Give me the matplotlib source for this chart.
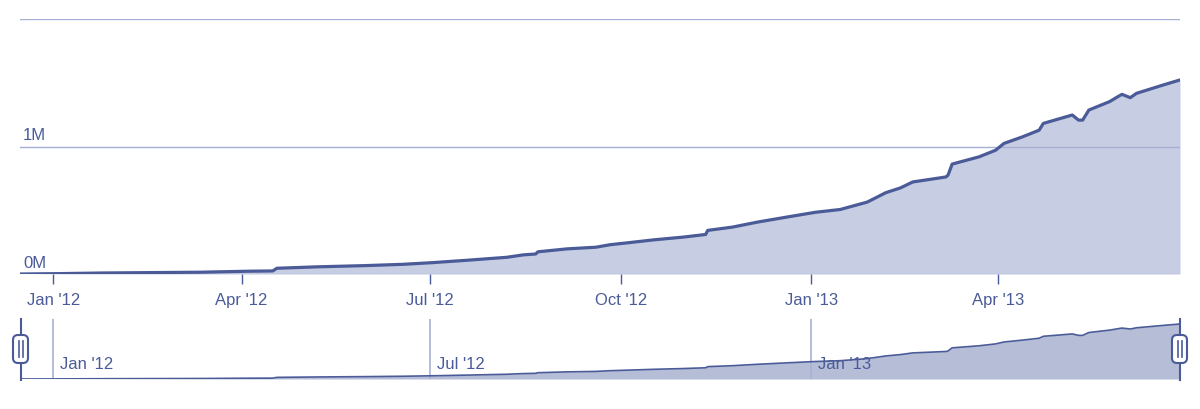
import numpy as np
import pandas as pd
import matplotlib
matplotlib.use("Agg")
import matplotlib.pyplot as plt
import matplotlib.dates as mdates
from matplotlib.patches import FancyBboxPatch

# cumulative total (millions)
dates = [
    "2011-12-16", "2012-01-04", "2012-01-25", "2012-03-12", "2012-04-05",
    "2012-04-16", "2012-04-18", "2012-05-07", "2012-05-31", "2012-06-18",
    "2012-07-02", "2012-07-19", "2012-08-07", "2012-08-15", "2012-08-21",
    "2012-08-22", "2012-09-05", "2012-09-19", "2012-09-26", "2012-10-04",
    "2012-10-17", "2012-10-31", "2012-11-11", "2012-11-12", "2012-11-24",
    "2012-12-06", "2012-12-20", "2013-01-03", "2013-01-15", "2013-01-28",
    "2013-02-06", "2013-02-13", "2013-02-19", "2013-03-07", "2013-03-08",
    "2013-03-10", "2013-03-23", "2013-03-31", "2013-04-04", "2013-04-13",
    "2013-04-21", "2013-04-23", "2013-05-07", "2013-05-10", "2013-05-12",
    "2013-05-15", "2013-05-25", "2013-05-29", "2013-05-31", "2013-06-04",
    "2013-06-07", "2013-06-20", "2013-06-28",
]
values = [
    0.000, 0.003, 0.008, 0.014, 0.022,
    0.024, 0.045, 0.056, 0.066, 0.076,
    0.089, 0.108, 0.131, 0.150, 0.157,
    0.174, 0.197, 0.210, 0.230, 0.244,
    0.268, 0.289, 0.310, 0.342, 0.368,
    0.407, 0.446, 0.484, 0.506, 0.564,
    0.638, 0.675, 0.722, 0.761, 0.775,
    0.862, 0.919, 0.971, 1.024, 1.076,
    1.128, 1.181, 1.247, 1.207, 1.207,
    1.286, 1.352, 1.391, 1.409, 1.383,
    1.417, 1.483, 1.522,
]
y_ticks = [0, 1, 2]
y_labels = ["0M", "1M", ""]
x_ticks = ["2012-01-01", "2012-04-01", "2012-07-01", "2012-10-01", "2013-01-01", "2013-04-01"]
nav_ticks = ["2012-01-01", "2012-07-01", "2013-01-01"]
x_start, x_end = "2011-12-16", "2013-06-28"

x = pd.to_datetime(dates)
x0, x1 = pd.Timestamp(x_start), pd.Timestamp(x_end)

LINE = "#4a5b98"
FILL = "#c7cde2"
NAV_FILL = "#b5bdd7"
GRID = "#a6b0d6"
TEXT = "#4a5b98"

plt.rcParams["font.family"] = ["Liberation Sans", "DejaVu Sans"]

W, H = 1200, 410
fig = plt.figure(figsize=(W / 100, H / 100), dpi=100)

# main chart
ax = fig.add_axes([20 / W, 1 - 275 / H, 1160 / W, 255 / H])
ax.fill_between(x, values, 0, color=FILL, lw=0, zorder=1)
for t in y_ticks:
    ax.axhline(t, color=GRID, lw=1, zorder=1.5)
ax.plot(x, values, color=LINE, lw=2.3, zorder=3, solid_joinstyle="round")
ax.set_xlim(x0, x1)
ax.set_ylim(0, 2)
ax.set_yticks([])
for t, lab in zip(y_ticks, y_labels):
    if lab:
        ax.annotate(lab, xy=(0, t), xycoords=("axes fraction", "data"),
                    xytext=(3, 4), textcoords="offset pixels",
                    ha="left", va="bottom", fontsize=12, color=TEXT)
ax.set_xticks(pd.to_datetime(x_ticks))
ax.xaxis.set_major_formatter(mdates.DateFormatter("%b '%y"))
ax.tick_params(axis="x", direction="out", length=7, width=1, color=LINE,
               labelcolor=TEXT, labelsize=12, pad=6)
for s in ax.spines.values():
    s.set_visible(False)

# navigator
nav = fig.add_axes([20 / W, 1 - 380 / H, 1160 / W, 60 / H])
nav.fill_between(x, values, 0, color=NAV_FILL, lw=0, zorder=1)
nav.plot(x, values, color=LINE, lw=1.2, zorder=3)
nav.set_xlim(x0, x1)
nav.set_ylim(0, 1.66)
for d in pd.to_datetime(nav_ticks):
    nav.axvline(d, color=GRID, lw=1.2, zorder=2)
    nav.annotate(d.strftime("%b '%y"), xy=(d, 0), xycoords=("data", "axes fraction"),
                 xytext=(7, 8), textcoords="offset pixels",
                 ha="left", va="bottom", fontsize=12, color=TEXT, zorder=4)
nav.axis("off")

# handles
ov = fig.add_axes([0, 0, 1, 1])
ov.set_xlim(0, W)
ov.set_ylim(H, 0)
ov.axis("off")
for hx in (20.5, 1179.5):
    ov.plot([hx, hx], [320, 381], color=LINE, lw=1.5)
    ov.add_patch(FancyBboxPatch((hx - 7.5, 336), 15, 28,
                                boxstyle="round,pad=0,rounding_size=5",
                                fc="white", ec=LINE, lw=1.5, zorder=5))
    for dx in (-2, 2):
        ov.plot([hx + dx, hx + dx], [342, 358], color=LINE, lw=1.2, zorder=6)

fig.savefig("out.png", dpi=100)
